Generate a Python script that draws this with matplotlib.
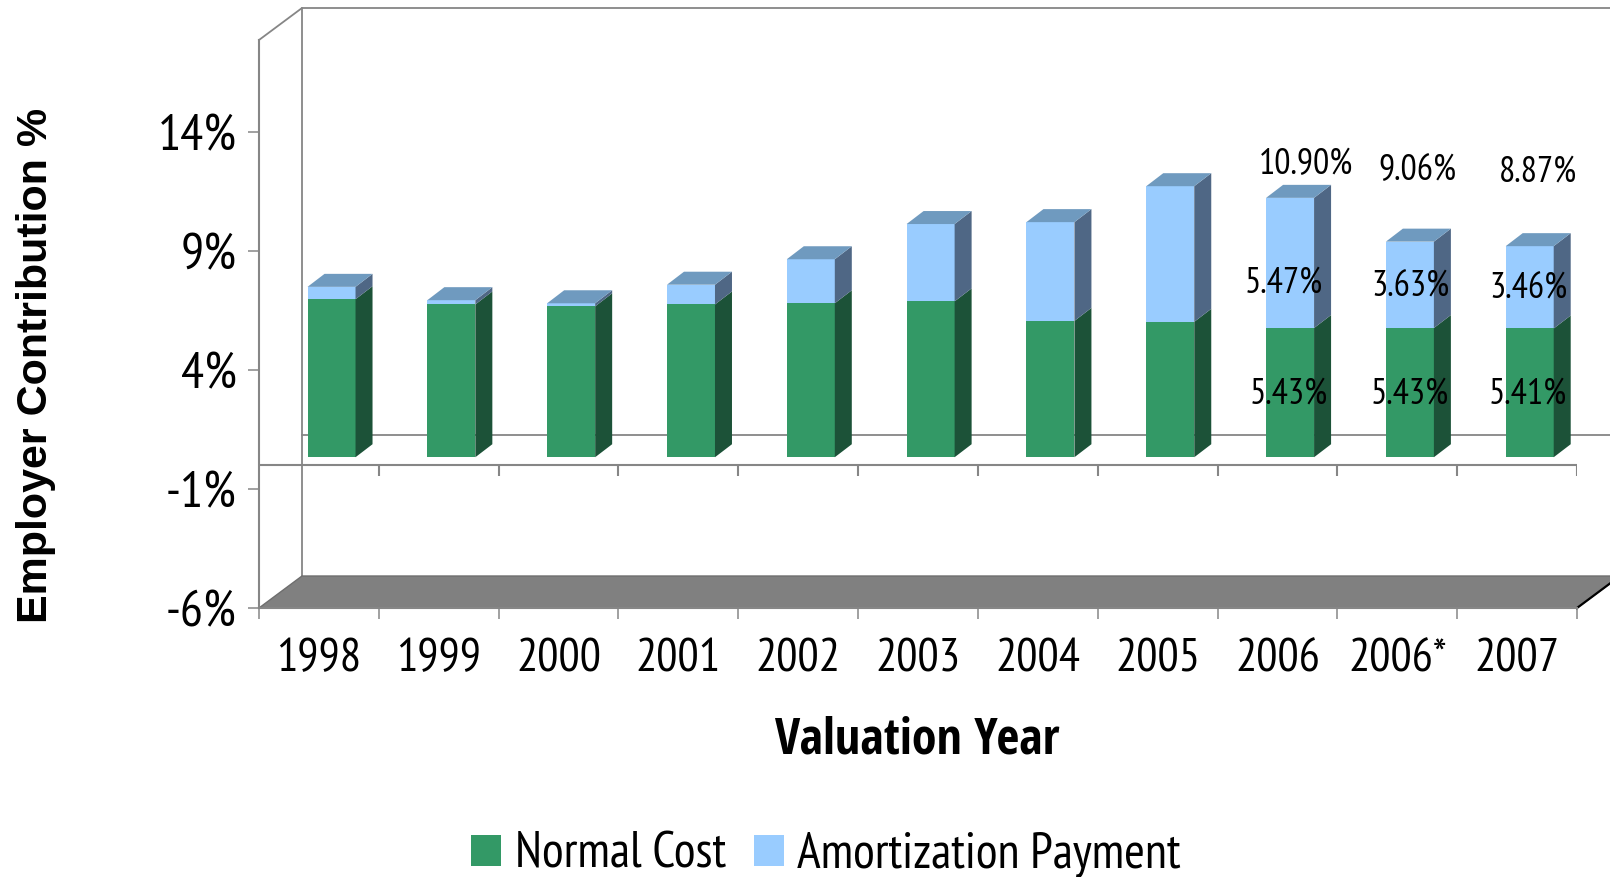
import matplotlib
matplotlib.use('Agg')
import matplotlib.pyplot as plt
from matplotlib.patches import Polygon

years = ['1998', '1999', '2000', '2001', '2002', '2003', '2004', '2005', '2006', '2006*', '2007']
normal_cost = [6.64, 6.42, 6.34, 6.42, 6.47, 6.55, 5.73, 5.69, 5.43, 5.43, 5.41]
amortization = [0.52, 0.18, 0.13, 0.83, 1.85, 3.25, 4.15, 5.70, 5.47, 3.63, 3.46]
y_ticks = [-6, -1, 4, 9, 14]

normal_labels = {8: '5.43%', 9: '5.43%', 10: '5.41%'}
amort_labels = {8: '5.47%', 9: '3.63%', 10: '3.46%'}
total_labels = {8: '10.90%', 9: '9.06%', 10: '8.87%'}

NARROW = ['Open Sans Condensed', 'Liberation Sans', 'DejaVu Sans']
LABEL_FONT = ['PT Sans Narrow', 'Liberation Sans', 'DejaVu Sans']
GRID = '#868686'
W, H = 1610, 877
X0, X1, Y_BOTTOM, Y_TOP = 259, 1577, 608, 40
PX_X = (X1 - X0) / 11
PX_Y = (Y_BOTTOM - Y_TOP) / 23.87

fig = plt.figure(figsize=(W / 100, H / 100), dpi=100)
ax = fig.add_axes([X0 / W, 1 - Y_BOTTOM / H, (X1 - X0) / W, (Y_BOTTOM - Y_TOP) / H])
ax.set_xlim(0, 11)
ax.set_ylim(-6, 17.87)
ax.patch.set_visible(False)


def px(x, y):
    return (x - X0) / PX_X, (Y_BOTTOM - y) / PX_Y - 6


# depth of the back wall and of a bar, in data units
wall_dx, wall_dy = 43 / PX_X, 32 / PX_Y
bar_dx, bar_dy = 17 / PX_X, 13 / PX_Y
bar_w = 48 / PX_X
bar_base = 8 / PX_Y
right = 11 + 33 / PX_X

# back wall
ax.plot([0, wall_dx, right], [17.87, 17.87 + wall_dy, 17.87 + wall_dy], color=GRID, lw=1.3, clip_on=False, zorder=1)
ax.plot([wall_dx, wall_dx], [-6 + wall_dy, 17.87 + wall_dy], color=GRID, lw=1.3, clip_on=False, zorder=1)
ax.plot([wall_dx, right], [wall_dy - 0.06, wall_dy - 0.06], color=GRID, lw=1.3, clip_on=False, zorder=1)

# floor
ax.add_patch(Polygon([(0, -6), (11, -6), (11 + wall_dx, -6 + wall_dy), (wall_dx, -6 + wall_dy)],
                     closed=True, fc='#808080', ec='#6e6e6e', lw=1, clip_on=False, zorder=1.5))
ax.plot([11, 11 + wall_dx], [-6, -6 + wall_dy], color='black', lw=1.6, clip_on=False, zorder=1.6)

# front zero axis
ax.plot([0, 11], [0, 0], color=GRID, lw=1.5, zorder=2)
ax.vlines(range(1, 12), -11 / PX_Y, 0, color=GRID, lw=1.5, zorder=2)

# bars
pos = [i + 0.405 for i in range(len(years))]
tops = [n + a for n, a in zip(normal_cost, amortization)]
b1 = ax.bar(pos, normal_cost, bar_w, bottom=bar_base, align='edge', color='#339966', zorder=3, label='Normal Cost')
b2 = ax.bar(pos, amortization, bar_w, bottom=[bar_base + n for n in normal_cost], align='edge',
            color='#99CCFF', zorder=3, label='Amortization Payment')
for x, n, t in zip(pos, normal_cost, tops):
    xr = x + bar_w
    yn = bar_base + n
    yt = bar_base + t
    ax.add_patch(Polygon([(xr, bar_base), (xr + bar_dx, bar_base + bar_dy), (xr + bar_dx, yn + bar_dy), (xr, yn)],
                         fc='#1C5238', ec='none', zorder=3))
    ax.add_patch(Polygon([(xr, yn), (xr + bar_dx, yn + bar_dy), (xr + bar_dx, yt + bar_dy), (xr, yt)],
                         fc='#4F6785', ec='none', zorder=3))
    ax.add_patch(Polygon([(x, yt), (xr, yt), (xr + bar_dx, yt + bar_dy), (x + bar_dx, yt + bar_dy)],
                         fc='#6F9ABF', ec='none', zorder=3))

# axes and ticks
for s in ['top', 'right']:
    ax.spines[s].set_visible(False)
for s in ['left', 'bottom']:
    ax.spines[s].set_color(GRID)
    ax.spines[s].set_linewidth(1.5)
    ax.spines[s].set_zorder(2)
ax.set_yticks(y_ticks)
ax.set_yticklabels([f'{v}%' for v in y_ticks], family=LABEL_FONT, fontsize=37)
ax.set_xticks(range(12))
ax.set_xticklabels([])
ax.set_xticks([i + 0.5 for i in range(11)], minor=True)
ax.set_xticklabels(years, minor=True, family=LABEL_FONT, fontsize=34)
ax.tick_params(axis='both', which='major', length=8, width=1.1, color=GRID, pad=8)
ax.tick_params(axis='x', which='minor', length=0, pad=22)

# value labels
label_px = {
    8: ((1289, 394), (1284, 283), (1306, 165)),
    9: ((1410, 394), (1410, 287), (1417, 171)),
    10: ((1528, 394), (1528, 289), (1538, 172)),
}
for i, (p_n, p_a, p_t) in label_px.items():
    for p, lab in ((p_n, normal_labels[i]), (p_a, amort_labels[i]), (p_t, total_labels[i])):
        lx, ly = px(*p)
        ax.text(lx, ly, lab, family=LABEL_FONT, fontsize=26, ha='center', va='center', color='black', zorder=5)

fig.text(917 / W, 1 - 740 / H, 'Valuation Year', family=NARROW, fontweight='bold', fontsize=36,
         ha='center', va='center')
fig.text(36 / W, 1 - 365 / H, 'Employer Contribution %', family='Liberation Sans', fontweight='bold',
         fontsize=31, rotation=90, ha='center', va='center')

fig.legend(handles=[b1, b2], loc='center', bbox_to_anchor=(826 / W, 1 - 855 / H), ncol=2, frameon=False,
           prop={'family': LABEL_FONT, 'size': 36}, handlelength=0.6, handleheight=0.6,
           handletextpad=0.27, columnspacing=0.55, borderpad=0)

fig.savefig('out.png', dpi=100)
